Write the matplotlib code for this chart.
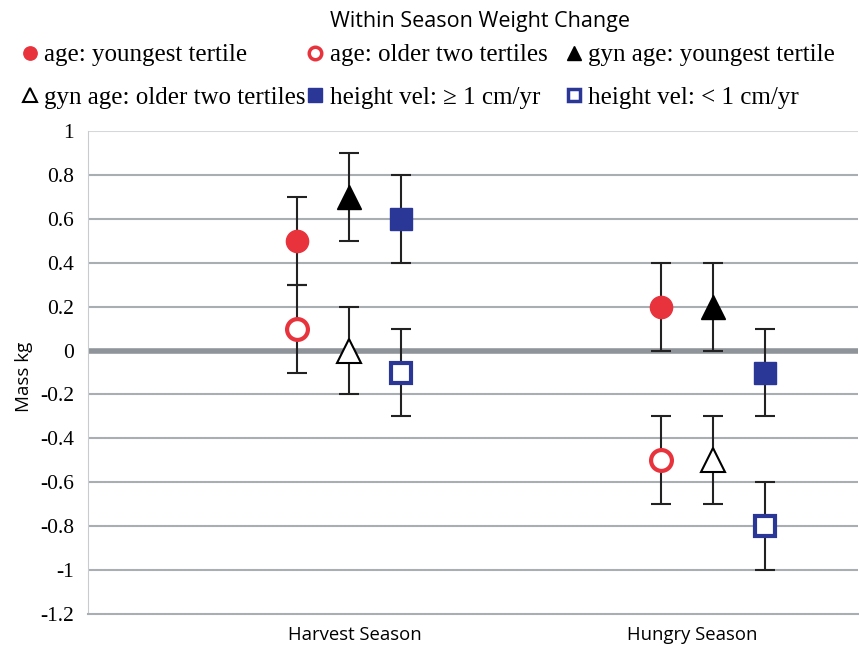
import numpy as np
import matplotlib.pyplot as plt
from matplotlib.lines import Line2D

# category labels and series (value, symmetric error)
seasons = ["Harvest Season", "Hungry Season"]
labels = ["age: youngest tertile", "age: older two tertiles",
          "gyn age: youngest tertile", "gyn age: older two tertiles",
          "height vel: \u2265 1 cm/yr", "height vel: < 1 cm/yr"]
age_young = [0.5, 0.2]
age_old = [0.1, -0.5]
gyn_young = [0.7, 0.2]
gyn_old = [0.0, -0.5]
hv_high = [0.6, -0.1]
hv_low = [-0.1, -0.8]
err = [0.2, 0.2]
yticks = [-1.2, -1, -0.8, -0.6, -0.4, -0.2, 0, 0.2, 0.4, 0.6, 0.8, 1]

red = "#E8323C"
blue = "#2B3796"

fig = plt.figure(figsize=(8.59, 6.46), dpi=100)
ax = fig.add_axes([88 / 859, 1 - 614 / 646, 770 / 859, (614 - 131) / 646])

x = np.array([1.0, 2.0])
off = 0.143
styles = [
    (age_young, -off, dict(marker="o", ms=16, mfc=red, mec=red, mew=1)),
    (age_old, -off, dict(marker="o", ms=15, mfc="white", mec=red, mew=3)),
    (gyn_young, 0, dict(marker="^", ms=17, mfc="black", mec="black", mew=1)),
    (gyn_old, 0, dict(marker="^", ms=17, mfc="white", mec="black", mew=1.5)),
    (hv_high, off, dict(marker="s", ms=16, mfc=blue, mec=blue, mew=1)),
    (hv_low, off, dict(marker="s", ms=15, mfc="white", mec=blue, mew=3)),
]
for vals, dx, st in styles:
    ax.errorbar(x + dx, vals, yerr=err, fmt="none", ecolor="#222222",
                elinewidth=1.5, capsize=7, capthick=1.5, zorder=3)
    ax.plot(x + dx, vals, ls="none", zorder=4, **st)

ax.set_xlim(0.283, 2.398)
ax.set_ylim(-1.2, 1)
ax.set_yticks(yticks)
ax.set_yticklabels([f"{t:g}" for t in yticks], family="Liberation Serif", fontsize=15.5)
ax.set_xticks([1.015, 1.943])
ax.set_xticklabels(seasons, family="Open Sans", fontsize=13.3)
ax.tick_params(length=0, pad=10)
ax.tick_params(axis="x", pad=9)
for t in yticks[1:]:
    if t == 0:
        ax.axhline(0, color="#8E9499", lw=4, zorder=1)
    else:
        ax.axhline(t, color="#A9AEB2" if t != 1 else "#D5D8DA", lw=1.5, zorder=1)
for s in ["top", "right"]:
    ax.spines[s].set_visible(False)
ax.spines["left"].set_color("#C8CCCF")
ax.spines["bottom"].set_color("#A9AEB2")
ax.spines["bottom"].set_linewidth(1.5)
ax.set_ylabel("Mass kg", family="Open Sans", fontsize=13.5, labelpad=4)
ax.yaxis.set_label_coords(-55 / 770, (614 - 377) / (614 - 131))

fig.text(480 / 859, 1 - 21 / 646, "Within Season Weight Change", ha="center",
         va="center", family="Open Sans", fontsize=15.5)

handles = [Line2D([], [], ls="none", **st) for _, _, st in styles]
for h in handles:
    h.set_markersize(h.get_markersize() * 0.6)
    h.set_markeredgewidth(min(h.get_markeredgewidth(), 2.5))
cols = [(0, 3, 22), (1, 4, 307), (2, 5, 566)]
for a, b, xp in cols:
    leg = fig.legend([handles[a], handles[b]], [labels[a], labels[b]],
                     loc="upper left", bbox_to_anchor=(xp / 859, 1 - 44 / 646),
                     frameon=False, handlelength=0.6, handletextpad=0.3,
                     labelspacing=0.8, borderpad=0, borderaxespad=0,
                     prop={"family": "Liberation Serif", "size": 18})

fig.savefig("out.png", dpi=100)
